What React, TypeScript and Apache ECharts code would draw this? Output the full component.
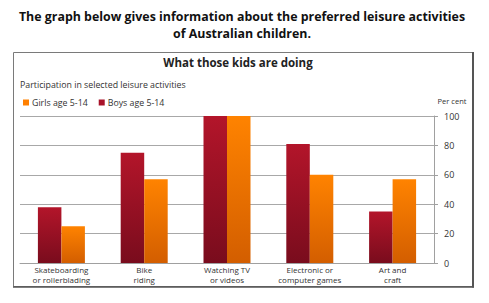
import React, { useEffect, useRef } from "react";
import * as echarts from "echarts";

const categories = [
  "Skateboarding\nor rollerblading",
  "Bike\nriding",
  "Watching TV\nor videos",
  "Electronic or\ncomputer games",
  "Art and\ncraft",
];
const boys = [38, 75, 100, 81, 35];
const girls = [25, 57, 100, 60, 57];
const yTicks = { min: 0, max: 100, interval: 20 };

const FONT = "'Open Sans', 'Noto Sans', sans-serif";

export default function App() {
  const ref = useRef<HTMLDivElement>(null);

  useEffect(() => {
    if (!ref.current) return;
    const chart = echarts.init(ref.current, undefined, { renderer: "svg" });

    const boyFill = new echarts.graphic.LinearGradient(0, 0, 0, 1, [
      { offset: 0, color: "#b3152a" },
      { offset: 1, color: "#790c1d" },
    ]);
    const girlFill = new echarts.graphic.LinearGradient(0, 0, 0, 1, [
      { offset: 0, color: "#ff8300" },
      { offset: 1, color: "#d35e00" },
    ]);

    chart.setOption({
      animation: false,
      backgroundColor: "#ffffff",
      graphic: [
        // framed chart panel with a slightly heavier right/bottom edge
        {
          type: "rect",
          shape: { x: 13.5, y: 52.5, width: 459, height: 234 },
          style: { fill: "none", stroke: "#7a7a7a", lineWidth: 1 },
          z: -1,
        },
        {
          type: "line",
          shape: { x1: 473, y1: 52, x2: 473, y2: 287.5 },
          style: { stroke: "#555", lineWidth: 2 },
          z: -1,
        },
        {
          type: "line",
          shape: { x1: 13, y1: 287, x2: 474, y2: 287 },
          style: { stroke: "#555", lineWidth: 1.5 },
          z: -1,
        },
        {
          type: "text",
          x: 242,
          y: 16,
          style: {
            text: "The graph below gives information about the preferred leisure activities",
            font: `bold 12.4px ${FONT}`,
            fill: "#111",
            align: "center",
            verticalAlign: "middle",
          },
        },
        {
          type: "text",
          x: 242,
          y: 33,
          style: {
            text: "of Australian children.",
            font: `bold 12.4px ${FONT}`,
            fill: "#111",
            align: "center",
            verticalAlign: "middle",
          },
        },
        {
          type: "text",
          x: 238,
          y: 62,
          style: {
            text: "What those kids are doing",
            font: `bold 11.5px ${FONT}`,
            fill: "#222",
            align: "center",
            verticalAlign: "middle",
          },
        },
        {
          type: "text",
          x: 20,
          y: 85,
          style: {
            text: "Participation in selected leisure activities",
            font: `8.8px ${FONT}`,
            fill: "#333",
            verticalAlign: "middle",
          },
        },
        {
          type: "text",
          x: 452,
          y: 101,
          style: {
            text: "Per cent",
            font: `7.5px ${FONT}`,
            fill: "#333",
            align: "center",
            verticalAlign: "middle",
          },
        },
      ],
      legend: {
        left: 18,
        top: 93,
        icon: "rect",
        itemWidth: 6,
        itemHeight: 6,
        itemGap: 11,
        textStyle: { fontFamily: FONT, fontSize: 8.8, color: "#333", padding: [0, 0, 0, -2] },
        data: [
          { name: "Girls age 5-14", itemStyle: { color: "#ff8000" } },
          { name: "Boys age 5-14", itemStyle: { color: "#a8122a" } },
        ],
      },
      grid: { left: 20, right: 55, top: 116, bottom: 40 },
      xAxis: {
        type: "category",
        data: categories,
        axisLine: { show: true, lineStyle: { color: "#a0a0a0", width: 1 } },
        axisTick: { show: false },
        axisLabel: {
          interval: 0,
          margin: 1,
          fontFamily: FONT,
          fontSize: 8,
          lineHeight: 10.5,
          color: "#333",
        },
      },
      yAxis: {
        type: "value",
        position: "right",
        min: yTicks.min,
        max: yTicks.max,
        interval: yTicks.interval,
        axisLine: { show: true, lineStyle: { color: "#a0a0a0" } },
        axisTick: { show: true, length: 4, lineStyle: { color: "#a0a0a0" } },
        splitLine: { show: true, lineStyle: { color: "#a8a8a8", width: 1 } },
        axisLabel: {
          margin: 10,
          fontFamily: FONT,
          fontSize: 9,
          color: "#333",
        },
      },
      series: [
        {
          name: "Boys age 5-14",
          type: "bar",
          data: boys,
          barWidth: 23.5,
          barGap: "0%",
          itemStyle: { color: boyFill },
        },
        {
          name: "Girls age 5-14",
          type: "bar",
          data: girls,
          barWidth: 23.5,
          barGap: "0%",
          itemStyle: { color: girlFill },
        },
      ],
    });

    return () => chart.dispose();
  }, []);

  return (
    <div
      ref={ref}
      style={{ position: "fixed", left: 0, top: 0, width: 489, height: 303 }}
    />
  );
}
